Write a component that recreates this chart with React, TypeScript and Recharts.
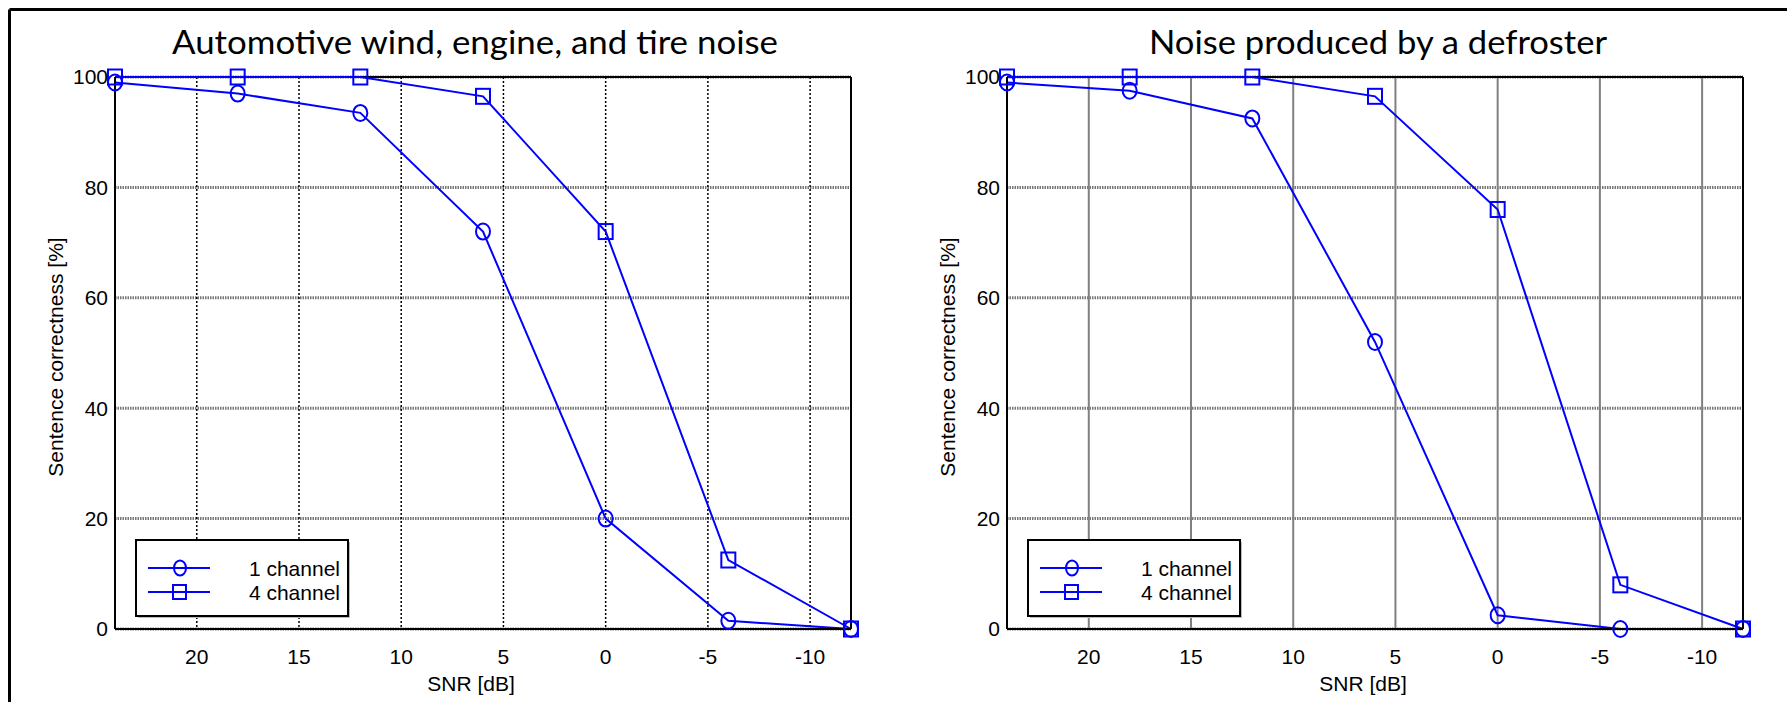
import { LineChart, Line, XAxis, YAxis, CartesianGrid, ReferenceLine, Legend } from 'recharts';

// SNR values (dB) where the sentence tests were run
const snrPoints = [24, 18, 12, 6, 0, -6, -12];
const snrTicks = [20, 15, 10, 5, 0, -5, -10];
const correctnessTicks = [0, 20, 40, 60, 80, 100];

// sentence correctness [%], automotive wind / engine / tire noise
const windOneChannel = [99, 97, 93.5, 72, 20, 1.5, 0];
const windFourChannel = [100, 100, 100, 96.5, 72, 12.5, 0];

// sentence correctness [%], defroster noise
const frostOneChannel = [99, 97.5, 92.5, 52, 2.5, 0, 0];
const frostFourChannel = [100, 100, 100, 96.5, 76, 8, 0];

const seriesNames = ['1 channel', '4 channel'];
const panelTitles = ['Automotive wind, engine, and tire noise', 'Noise produced by a defroster'];

const BLUE = '#0000ff';
const AXIS_FONT = 'Arial, "Liberation Sans", Helvetica, sans-serif';
const TITLE_FONT = 'Lato, "Open Sans", sans-serif';

function buildRows(one: number[], four: number[]) {
  return snrPoints.map((snr, i) => ({ snr, one: one[i], four: four[i] }));
}

function CircleDot(props: any) {
  const { cx, cy, index } = props;
  if (cx == null || cy == null) return <g key={index} />;
  return <ellipse key={index} cx={cx} cy={cy} rx={7} ry={8} fill="none" stroke={BLUE} strokeWidth={2} />;
}

function SquareDot(props: any) {
  const { cx, cy, index } = props;
  if (cx == null || cy == null) return <g key={index} />;
  return <rect key={index} x={cx - 7} y={cy - 7.5} width={14} height={15} fill="none" stroke={BLUE} strokeWidth={2} />;
}

function LegendBox({ payload }: any) {
  const items = payload ?? [];
  return (
    <svg width={216} height={80} style={{ display: 'block' }}>
      <rect x={3} y={3} width={212} height={76} fill="#bbb" />
      <rect x={1} y={1} width={212} height={76} fill="#fff" stroke="#000" strokeWidth={2} />
      {items.map((entry: any, i: number) => {
        const y = 29 + i * 24;
        return (
          <g key={entry.value}>
            <line x1={13} x2={75} y1={y} y2={y} stroke={BLUE} strokeWidth={2} />
            {i === 0 ? (
              <ellipse cx={45} cy={y} rx={6} ry={7.5} fill="none" stroke={BLUE} strokeWidth={2} />
            ) : (
              <rect x={38} y={y - 7} width={13} height={14} fill="none" stroke={BLUE} strokeWidth={2} />
            )}
            <text x={205} y={y} textAnchor="end" dominantBaseline="central" fontFamily={AXIS_FONT} fontSize={21} fill="#000">
              {entry.value}
            </text>
          </g>
        );
      })}
    </svg>
  );
}

const yLabel = (props: any) => {
  const { x, y, width, height } = props.viewBox;
  const cx = x + width - 60;
  const cy = y + height / 2 + 4;
  return (
    <text x={cx} y={cy} transform={`rotate(-90, ${cx}, ${cy})`} textAnchor="middle" dominantBaseline="central"
      fontFamily={AXIS_FONT} fontSize={21} fill="#000">
      Sentence correctness [%]
    </text>
  );
};

const xLabel = (props: any) => {
  const { x, y, width } = props.viewBox;
  return (
    <text x={x + width / 2 - 12} y={y + 62} textAnchor="middle" fontFamily={AXIS_FONT} fontSize={21} fill="#000">
      SNR [dB]
    </text>
  );
};

interface PanelProps {
  left: number;
  width: number;
  marginLeft: number;
  marginRight: number;
  legendLeft: number;
  one: number[];
  four: number[];
  solidVerticalGrid: boolean;
}

function Panel({ left, width, marginLeft, marginRight, legendLeft, one, four, solidVerticalGrid }: PanelProps) {
  const rows = buildRows(one, four);
  return (
    <div style={{ position: 'absolute', left, top: 0, width, height: 702 }}>
      <LineChart width={width} height={702} data={rows}
        margin={{ top: 77, right: marginRight, bottom: 33, left: marginLeft }}>
        {/* horizontal grid: dense grey dots; vertical grid differs per panel */}
        <CartesianGrid vertical={false} stroke="#777" strokeWidth={3} strokeDasharray="1.5 1" />
        {solidVerticalGrid ? (
          <CartesianGrid horizontal={false} stroke="#808080" strokeWidth={2} />
        ) : (
          <CartesianGrid horizontal={false} stroke="#000" strokeWidth={1.5} strokeDasharray="2 2" />
        )}
        <XAxis dataKey="snr" type="number" domain={[-12, 24]} reversed ticks={snrTicks} interval={0}
          height={40} tickSize={0} tickMargin={20} axisLine={{ stroke: '#000', strokeWidth: 2 }} tickLine={false}
          tick={{ fill: '#000', fontSize: 21, fontFamily: AXIS_FONT }} label={{ content: xLabel }} />
        <YAxis type="number" domain={[0, 100]} ticks={correctnessTicks} interval={0} width={40}
          tickSize={0} tickMargin={7} axisLine={{ stroke: '#000', strokeWidth: 2 }} tickLine={false}
          tick={{ fill: '#000', fontSize: 21, fontFamily: AXIS_FONT }} label={{ content: yLabel }} />
        {/* top and right box edges */}
        <ReferenceLine y={100} stroke="#000" strokeWidth={2} />
        <ReferenceLine x={-12} stroke="#000" strokeWidth={2} />
        <Legend layout="horizontal" verticalAlign="middle" align="center" content={<LegendBox />}
          wrapperStyle={{ left: legendLeft, top: 539, width: 216, height: 80 }} />
        <Line dataKey="one" name={seriesNames[0]} stroke={BLUE} strokeWidth={2} dot={<CircleDot />}
          activeDot={false} isAnimationActive={false} />
        <Line dataKey="four" name={seriesNames[1]} stroke={BLUE} strokeWidth={2} dot={<SquareDot />}
          activeDot={false} isAnimationActive={false} />
      </LineChart>
    </div>
  );
}

export default function App() {
  return (
    <div style={{ position: 'absolute', left: 0, top: 0, width: 1787, height: 702, background: '#fff', overflow: 'hidden' }}>
      <Panel left={0} width={900} marginLeft={75} marginRight={49} legendLeft={135}
        one={windOneChannel} four={windFourChannel} solidVerticalGrid={false} />
      <Panel left={900} width={887} marginLeft={67} marginRight={44} legendLeft={127}
        one={frostOneChannel} four={frostFourChannel} solidVerticalGrid />
      <svg width={1787} height={702} style={{ position: 'absolute', left: 0, top: 0, pointerEvents: 'none' }}>
        <line x1={9.5} x2={1787} y1={9.5} y2={9.5} stroke="#000" strokeWidth={3} />
        <line x1={9.5} x2={9.5} y1={9.5} y2={702} stroke="#000" strokeWidth={3} />
        <text x={172} y={54} textLength={606} lengthAdjust="spacingAndGlyphs" fontFamily={TITLE_FONT} fontSize={32} fill="#000">
          {panelTitles[0]}
        </text>
        <text x={1149} y={54} textLength={458} lengthAdjust="spacingAndGlyphs" fontFamily={TITLE_FONT} fontSize={32} fill="#000">
          {panelTitles[1]}
        </text>
      </svg>
    </div>
  );
}
